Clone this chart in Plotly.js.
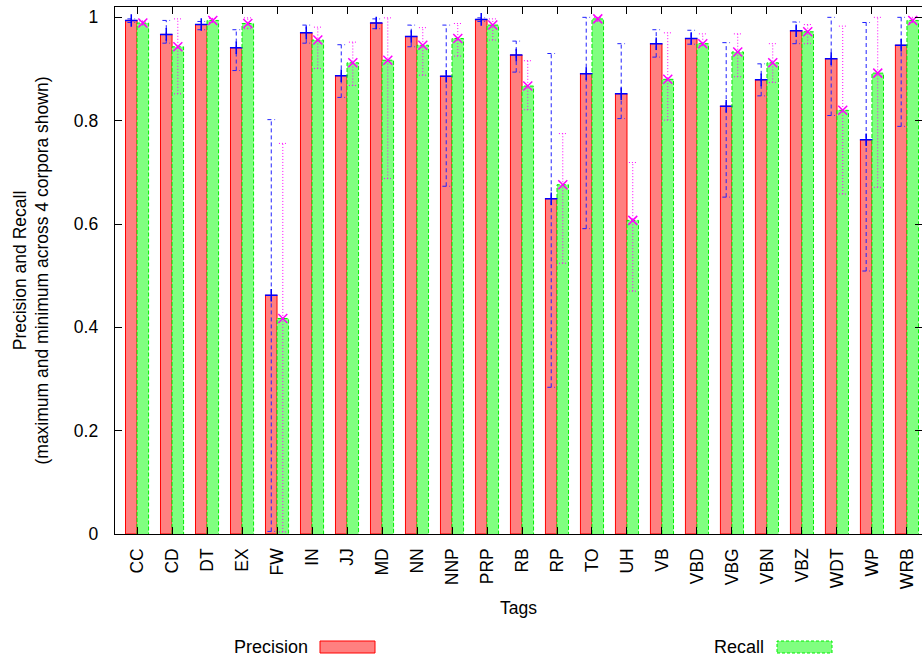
<!DOCTYPE html>
<html>
<head>
<meta charset="utf-8">
<script src="https://cdn.plot.ly/plotly-3.0.1.min.js"></script>
<style>html,body{margin:0;padding:0;background:#fff;}#chart{width:922px;height:659px;}</style>
</head>
<body>
<div id="chart"></div>
<script>
// ---- data ----
const cats = ["CC","CD","DT","EX","FW","IN","JJ","MD","NN","NNP","PRP","RB","RP","TO","UH","VB","VBD","VBG","VBN","VBZ","WDT","WP","WRB"];

const precision    = [0.994,0.967,0.986,0.941,0.462,0.970,0.887,0.989,0.963,0.886,0.996,0.927,0.649,0.891,0.852,0.949,0.959,0.828,0.879,0.974,0.920,0.763,0.946];
const precisionMin = [0.990,0.950,0.976,0.897,0.005,0.950,0.845,0.978,0.943,0.673,0.992,0.894,0.284,0.591,0.804,0.923,0.948,0.652,0.848,0.949,0.810,0.509,0.789];
const precisionMax = [0.997,0.994,0.992,0.976,0.802,0.985,0.947,0.997,0.985,0.985,0.999,0.954,0.930,1.000,0.949,0.976,0.975,0.951,0.910,0.991,1.000,0.990,1.000];

const recall    = [0.989,0.943,0.994,0.988,0.417,0.956,0.912,0.917,0.946,0.959,0.985,0.867,0.676,0.997,0.607,0.880,0.949,0.933,0.912,0.972,0.820,0.892,0.994];
const recallMin = [0.985,0.852,0.990,0.978,0.004,0.901,0.868,0.688,0.888,0.925,0.956,0.821,0.524,0.992,0.470,0.801,0.945,0.885,0.874,0.949,0.658,0.671,0.990];
const recallMax = [0.993,0.997,0.998,0.999,0.756,0.981,0.952,0.999,0.980,0.988,0.997,0.916,0.775,1.000,0.719,0.970,0.968,0.968,0.949,0.986,0.983,1.000,1.000];

// ---- styling constants ----
const BW = 0.33;      // bar width in category units
const CAP = 0.11;     // half width of error-bar caps
const FONT = "Liberation Sans, Arial, Helvetica, sans-serif";
const FS = 17.5;

const idx = cats.map((_, i) => i);

function errPath(xs, mins, maxs) {
  const x = [], y = [];
  xs.forEach((xc, i) => {
    x.push(xc, xc, null); y.push(mins[i], maxs[i], null);
    x.push(xc - CAP, xc + CAP, null); y.push(mins[i], mins[i], null);
    x.push(xc - CAP, xc + CAP, null); y.push(maxs[i], maxs[i], null);
  });
  return {x, y};
}
function outline(xs, vals) {
  const x = [], y = [];
  xs.forEach((x0, i) => {
    x.push(x0, x0, x0 + BW, x0 + BW, null);
    y.push(0, vals[i], vals[i], 0, null);
  });
  return {x, y};
}

const precX = idx.map(i => i - BW / 2);
const recX = idx.map(i => i + BW / 2);
const pErr = errPath(precX, precisionMin, precisionMax);
const rErr = errPath(recX, recallMin, recallMax);
const rOut = outline(idx, recall);

const traces = [
  {type: "bar", name: "Precision", x: idx, y: precision, offset: -BW, width: BW,
   marker: {color: "#ff8080", line: {color: "#ff0000", width: 1}}},
  {type: "scatter", mode: "lines", x: pErr.x, y: pErr.y, connectgaps: false,
   line: {color: "#2020ff", width: 1, dash: "4px,3px"}},
  {type: "scatter", mode: "markers", x: precX, y: precision,
   marker: {symbol: "cross-thin-open", size: 9, color: "#0000ff", line: {color: "#0000ff", width: 1.5}}},
  {type: "bar", name: "Recall", x: idx, y: recall, offset: 0, width: BW,
   marker: {color: "#80ff80", line: {width: 0}}},
  {type: "scatter", mode: "lines", x: rOut.x, y: rOut.y, connectgaps: false,
   line: {color: "#00ee00", width: 1, dash: "4px,2px"}},
  {type: "scatter", mode: "lines", x: rErr.x, y: rErr.y, connectgaps: false,
   line: {color: "#ff00ff", width: 1, dash: "1px,2px"}},
  {type: "scatter", mode: "markers", x: recX, y: recall,
   marker: {symbol: "x-thin-open", size: 9, color: "#ff00ff", line: {color: "#ff00ff", width: 1.5}}}
];

const L = 115, R = 922, T = 7, B = 534;
const px = v => (v - L) / (R - L);
const py = v => (B - v) / (B - T);

const layout = {
  width: 922, height: 659,
  margin: {l: L, r: 922 - R, t: T, b: 659 - B, pad: 0},
  paper_bgcolor: "#ffffff", plot_bgcolor: "#ffffff",
  showlegend: false, barmode: "overlay",
  font: {family: FONT, size: FS, color: "#000"},
  xaxis: {
    range: [-0.63, 22.43], tickmode: "array", tickvals: idx, ticktext: cats,
    tickangle: -90, ticks: "inside", ticklen: 7, tickwidth: 1, tickcolor: "#000",
    showline: true, linecolor: "#000", linewidth: 1.3, mirror: "ticks",
    showgrid: false, zeroline: false, tickfont: {family: FONT, size: FS},
    ticklabelstandoff: 6,
    title: {text: "Tags", font: {family: FONT, size: FS}, standoff: 13}
  },
  yaxis: {
    range: [0, 1.02], tick0: 0, dtick: 0.2, ticks: "inside", ticklen: 7, tickwidth: 1, tickcolor: "#000",
    showline: true, linecolor: "#000", linewidth: 1.3, mirror: "ticks",
    showgrid: false, zeroline: false, tickfont: {family: FONT, size: FS},
    ticklabelstandoff: 12,
    title: {text: "Precision and Recall<br>(maximum and minimum across 4 corpora shown)", font: {family: FONT, size: FS}, standoff: 20}
  },
  annotations: [
    {xref: "paper", yref: "paper", x: px(310), y: py(647), xanchor: "right", yanchor: "middle",
     text: "Precision", showarrow: false, font: {family: FONT, size: 18}},
    {xref: "paper", yref: "paper", x: px(766), y: py(647), xanchor: "right", yanchor: "middle",
     text: "Recall", showarrow: false, font: {family: FONT, size: 18}}
  ],
  shapes: [
    {type: "rect", xref: "paper", yref: "paper", x0: px(320), x1: px(375), y0: py(653), y1: py(641),
     fillcolor: "#ff8080", line: {color: "#ff0000", width: 1}},
    {type: "rect", xref: "paper", yref: "paper", x0: px(777), x1: px(832), y0: py(653), y1: py(641),
     fillcolor: "#80ff80", line: {color: "#00ee00", width: 1, dash: "3px,2px"}}
  ]
};

Plotly.newPlot("chart", traces, layout, {staticPlot: true, displayModeBar: false});
</script>
</body>
</html>
